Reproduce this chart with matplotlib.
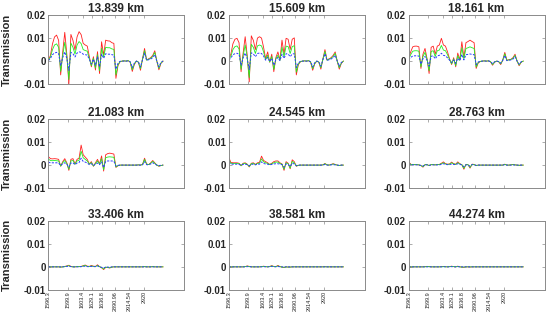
#!/usr/bin/env python3
"""Transmission vs. channel for nine tangent heights (3x3 panels)."""

import matplotlib

matplotlib.use("Agg")
import matplotlib.pyplot as plt
import numpy as np

plt.rcParams["font.family"] = ["Liberation Sans", "DejaVu Sans"]

# values below are in units of 1e-3 (transmission)
SCALE = 1e-3

TITLES = ["13.839 km", "15.609 km", "18.161 km",
          "21.083 km", "24.545 km", "28.763 km",
          "33.406 km", "38.581 km", "44.274 km"]

XTICK_LABELS = ["1596.3", "1599.9", "1603.4", "1629.1", "1636.8",
                "2890.96", "2914.54", "2920"]
XTICK_POS = [0, 9.4, 16.7, 21.2, 26.1, 32.5, 39.4, 46.7]
X_MAX = 66.4

RED_1 = [0.4, 2.5, 7.5, 10.5, 11.3, 9.0, -6.0, 4.0, 12.5, 3.0,
         -10.0, 11.6, 9.0, 4.8, 10.5, 12.8, 11.5, 7.7, 7.0, 6.5,
         2.0, -2.5, 1.9, -3.9, 4.1, -5.4, 8.4, 2.6, 9.1, 8.8,
         8.7, 8.0, 7.7, -7.5, -2.0, -0.3, 0.0, 0.1, 0.0, 0.2,
         -0.5, -4.5, -1.5, 0.0, -0.5, -4.0, 1.0, 5.5, 0.5, 1.0,
         1.5, 2.5, 4.5, 0.0, -3.8, -1.0, 0.0]
GREEN_1 = [0.3, 1.8, 5.0, 7.0, 7.5, 6.0, -4.5, 2.5, 8.2, 2.0,
           -8.0, 7.8, 6.0, 3.0, 7.0, 8.5, 7.6, 5.0, 4.6, 4.3,
           1.2, -2.0, 1.2, -3.0, 2.8, -4.2, 5.6, 1.8, 6.0, 5.8,
           5.8, 5.3, 5.1, -6.0, -1.6, -0.2, 0.0, 0.1, 0.0, 0.2,
           -0.4, -3.8, -1.2, 0.0, -0.4, -3.3, 0.8, 4.6, 0.4, 0.8,
           1.2, 2.0, 3.8, 0.0, -3.2, -0.8, 0.0]
BLUE_1 = [0.2, 1.2, 2.8, 3.5, 3.8, 3.2, -2.0, 1.5, 4.0, 1.2,
          -4.0, 3.8, 3.2, 1.8, 3.5, 4.0, 3.8, 3.0, 2.8, 2.6,
          0.8, -1.2, 0.8, -1.8, 1.8, -2.5, 3.0, 1.2, 3.2, 3.0,
          3.0, 2.8, 2.6, -3.5, -1.0, -0.1, 0.0, 0.0, 0.0, 0.1,
          -0.3, -2.8, -0.9, 0.0, -0.3, -2.5, 0.6, 3.5, 0.3, 0.6,
          0.9, 1.5, 2.8, 0.0, -2.5, -0.6, 0.0]

RED_2 = [1.2, 3.0, 7.5, 9.5, 9.9, 8.0, -4.6, 3.5, 10.6, 2.5,
         -9.0, 11.0, 9.0, 5.0, 10.0, 10.6, 10.0, 6.0, 1.0, 4.0,
         -0.5, 3.0, -4.6, 1.5, 4.0, 0.5, 9.1, 3.0, 9.9, 9.5,
         5.0, 9.5, 10.1, -6.0, -1.5, -0.3, 0.0, 0.1, 0.0, 0.2,
         -0.5, -4.0, -1.2, 0.0, -0.5, -3.5, 1.0, 5.0, 0.5, 1.0,
         1.5, 2.5, 4.0, 0.0, -3.5, -1.0, 0.0]
GREEN_2 = [0.8, 2.0, 5.0, 6.3, 6.6, 5.3, -3.6, 2.3, 7.0, 1.7,
           -7.2, 7.3, 6.0, 3.3, 6.6, 7.0, 6.6, 4.0, 0.6, 2.6,
           -0.4, 2.0, -3.6, 1.0, 2.6, 0.3, 6.0, 2.0, 6.5, 6.3,
           3.3, 6.3, 6.7, -4.8, -1.2, -0.2, 0.0, 0.1, 0.0, 0.2,
           -0.4, -3.3, -1.0, 0.0, -0.4, -2.9, 0.8, 4.2, 0.4, 0.8,
           1.2, 2.0, 3.4, 0.0, -2.9, -0.8, 0.0]
BLUE_2 = [0.5, 1.3, 2.8, 3.2, 3.4, 3.0, -1.8, 1.4, 3.5, 1.0,
          -3.6, 3.6, 3.1, 1.9, 3.3, 3.5, 3.3, 2.2, 0.4, 1.6,
          -0.2, 1.2, -1.8, 0.6, 1.6, 0.2, 3.0, 1.2, 3.2, 3.1,
          1.9, 3.1, 3.2, -2.8, -0.8, -0.1, 0.0, 0.0, 0.0, 0.1,
          -0.3, -2.5, -0.7, 0.0, -0.3, -2.2, 0.6, 3.2, 0.3, 0.6,
          0.9, 1.5, 2.5, 0.0, -2.2, -0.6, 0.0]

RED_3 = [1.2, 4.0, 6.2, 6.5, 6.5, 6.2, -3.2, 3.0, 5.5, 1.0,
         -5.4, 6.0, 6.5, 3.0, 6.5, 7.0, 9.9, 7.0, 6.5, 4.0,
         1.0, -1.5, 1.5, -2.5, 3.5, 0.5, 8.4, 1.5, 8.0, 8.5,
         9.1, 8.5, 8.0, -3.2, -0.8, -0.2, 0.0, 0.1, 0.0, 0.1,
         -0.3, -1.8, -0.5, 0.0, -0.3, -1.5, 0.5, 3.8, 0.4, 0.6,
         0.8, 1.5, 3.0, 0.0, -2.0, -0.5, 0.0]
GREEN_3 = [0.8, 2.8, 4.3, 4.5, 4.5, 4.3, -2.5, 2.0, 3.8, 0.7,
           -4.2, 4.2, 4.5, 2.0, 4.5, 4.8, 6.8, 4.8, 4.5, 2.8,
           0.7, -1.2, 1.0, -2.0, 2.4, 0.3, 5.8, 1.0, 5.5, 5.8,
           6.2, 5.8, 5.5, -2.6, -0.6, -0.1, 0.0, 0.1, 0.0, 0.1,
           -0.2, -1.5, -0.4, 0.0, -0.2, -1.2, 0.4, 3.2, 0.3, 0.5,
           0.7, 1.2, 2.5, 0.0, -1.7, -0.4, 0.0]
BLUE_3 = [0.5, 1.6, 2.2, 2.3, 2.3, 2.2, -1.3, 1.0, 2.0, 0.4,
          -2.2, 2.1, 2.3, 1.0, 2.3, 2.5, 3.4, 2.5, 2.3, 1.4,
          0.4, -0.6, 0.5, -1.0, 1.2, 0.2, 2.9, 0.5, 2.8, 2.9,
          3.1, 2.9, 2.8, -1.5, -0.4, -0.1, 0.0, 0.0, 0.0, 0.1,
          -0.2, -1.1, -0.3, 0.0, -0.2, -0.9, 0.3, 2.4, 0.2, 0.4,
          0.5, 0.9, 1.9, 0.0, -1.3, -0.3, 0.0]

RED_4 = [3.7, 2.8, 2.7, 2.8, 2.7, 2.5, -0.5, 1.5, 2.8, 1.0,
         -2.3, 2.5, 2.8, 0.5, 2.5, 3.0, 8.7, 4.5, 3.5, 2.5,
         0.5, 1.5, -0.5, 1.0, 2.5, 0.5, 4.0, -2.6, 4.5, 5.0,
         5.2, 5.0, 4.8, -1.0, -0.3, 0.0, 0.0, 0.0, 0.0, 0.0,
         0.0, 0.0, 0.0, 0.0, 0.1, 0.0, 0.3, 3.0, 0.5, 0.2,
         1.0, 2.0, 1.0, 0.0, -0.5, -0.2, 0.0]
GREEN_4 = [2.6, 2.0, 1.9, 2.0, 1.9, 1.8, -0.4, 1.1, 2.0, 0.7,
           -1.8, 1.8, 2.0, 0.4, 1.8, 2.1, 6.0, 3.2, 2.5, 1.8,
           0.4, 1.1, -0.4, 0.7, 1.8, 0.4, 2.8, -2.0, 3.2, 3.5,
           3.6, 3.5, 3.4, -0.8, -0.2, 0.0, 0.0, 0.0, 0.0, 0.0,
           0.0, 0.0, 0.0, 0.0, 0.1, 0.0, 0.2, 2.5, 0.4, 0.2,
           0.8, 1.6, 0.8, 0.0, -0.4, -0.2, 0.0]
BLUE_4 = [1.3, 1.0, 1.0, 1.0, 1.0, 0.9, -0.2, 0.6, 1.0, 0.4,
          -0.9, 0.9, 1.0, 0.2, 0.9, 1.1, 3.0, 1.6, 1.3, 0.9,
          0.2, 0.6, -0.2, 0.4, 0.9, 0.2, 1.4, -1.0, 1.6, 1.8,
          1.8, 1.8, 1.7, -0.4, -0.1, 0.0, 0.0, 0.0, 0.0, 0.0,
          0.0, 0.0, 0.0, 0.0, 0.0, 0.0, 0.1, 1.5, 0.2, 0.1,
          0.5, 1.0, 0.5, 0.0, -0.2, -0.1, 0.0]

RED_5 = [3.3, 1.2, 1.0, 1.0, 1.0, 0.8, -0.3, 0.8, 1.0, 0.4,
         -0.8, 0.8, 1.0, 0.3, 1.0, 1.2, 3.9, 2.0, 1.5, 1.0,
         0.3, 0.8, 1.5, 1.8, 1.8, 1.0, 0.5, -2.3, 1.5, 0.8,
         -1.6, 2.3, 1.5, -0.5, -0.1, 0.0, 0.0, 0.0, 0.0, 0.0,
         0.0, 0.0, 0.0, 0.0, 0.0, 0.0, 0.1, 0.7, 0.1, 0.0,
         0.3, 0.6, 0.3, 0.0, -0.2, 0.0, 0.0]
GREEN_5 = [2.3, 0.8, 0.7, 0.7, 0.7, 0.6, -0.2, 0.6, 0.7, 0.3,
           -0.6, 0.6, 0.7, 0.2, 0.7, 0.8, 2.7, 1.4, 1.0, 0.7,
           0.2, 0.6, 1.0, 1.3, 1.3, 0.7, 0.4, -1.8, 1.0, 0.6,
           -1.3, 1.6, 1.0, -0.4, -0.1, 0.0, 0.0, 0.0, 0.0, 0.0,
           0.0, 0.0, 0.0, 0.0, 0.0, 0.0, 0.1, 0.6, 0.1, 0.0,
           0.2, 0.5, 0.2, 0.0, -0.2, 0.0, 0.0]
BLUE_5 = [1.2, 0.4, 0.4, 0.4, 0.4, 0.3, -0.1, 0.3, 0.4, 0.2,
          -0.3, 0.3, 0.4, 0.1, 0.4, 0.4, 1.4, 0.7, 0.5, 0.4,
          0.1, 0.3, 0.5, 0.6, 0.6, 0.4, 0.2, -0.9, 0.5, 0.3,
          -0.6, 0.8, 0.5, -0.2, 0.0, 0.0, 0.0, 0.0, 0.0, 0.0,
          0.0, 0.0, 0.0, 0.0, 0.0, 0.0, 0.0, 0.3, 0.0, 0.0,
          0.1, 0.2, 0.1, 0.0, -0.1, 0.0, 0.0]

RED_6 = [1.5, 0.4, 0.2, 0.2, 0.2, 0.1, -0.2, -0.9, 0.2, 0.2,
         -0.2, 0.2, 0.2, 0.1, 0.3, 0.3, 0.8, 1.4, 0.6, 0.4,
         0.5, 1.3, 0.6, 0.4, 1.4, 0.6, 0.2, -1.8, 0.3, 0.2,
         -1.3, 0.4, 0.3, -0.2, 0.0, 0.0, 0.0, 0.0, 0.0, 0.0,
         0.0, 0.0, 0.0, 0.0, 0.0, 0.0, 0.0, 0.4, 0.0, 0.0,
         0.1, 0.3, 0.1, 0.0, -0.1, 0.0, 0.0]
GREEN_6 = [1.1, 0.3, 0.2, 0.2, 0.2, 0.1, -0.2, -0.7, 0.2, 0.2,
           -0.2, 0.2, 0.2, 0.1, 0.2, 0.2, 0.6, 1.0, 0.5, 0.3,
           0.4, 1.0, 0.5, 0.3, 1.0, 0.5, 0.2, -1.4, 0.2, 0.2,
           -1.0, 0.3, 0.2, -0.2, 0.0, 0.0, 0.0, 0.0, 0.0, 0.0,
           0.0, 0.0, 0.0, 0.0, 0.0, 0.0, 0.0, 0.3, 0.0, 0.0,
           0.1, 0.2, 0.1, 0.0, -0.1, 0.0, 0.0]
BLUE_6 = [0.6, 0.2, 0.1, 0.1, 0.1, 0.0, -0.1, -0.4, 0.1, 0.1,
          -0.1, 0.1, 0.1, 0.0, 0.1, 0.1, 0.3, 0.6, 0.3, 0.2,
          0.2, 0.5, 0.3, 0.2, 0.6, 0.3, 0.1, -0.7, 0.1, 0.1,
          -0.5, 0.2, 0.1, -0.1, 0.0, 0.0, 0.0, 0.0, 0.0, 0.0,
          0.0, 0.0, 0.0, 0.0, 0.0, 0.0, 0.0, 0.2, 0.0, 0.0,
          0.0, 0.1, 0.0, 0.0, 0.0, 0.0, 0.0]

RED_7 = [0.1, 0.0, 0.0, 0.0, 0.0, 0.0, -0.1, 0.0, 0.2, 0.4,
         0.7, 0.2, 0.0, 0.0, 0.1, 0.1, 0.2, 0.5, 0.8, 0.3,
         0.2, 0.6, 0.3, 0.2, 0.9, 0.1, -0.4, -1.2, -0.2, -0.3,
         -0.5, -0.1, 0.0, 0.0, 0.0, 0.0, 0.0, 0.0, 0.0, 0.0,
         0.0, 0.0, 0.0, 0.0, 0.0, 0.0, 0.0, 0.1, 0.0, 0.0,
         0.0, 0.1, 0.0, 0.0, 0.0, 0.0, 0.0]
GREEN_7 = [0.1, 0.0, 0.0, 0.0, 0.0, 0.0, -0.1, 0.0, 0.1, 0.3,
           0.5, 0.1, 0.0, 0.0, 0.1, 0.1, 0.1, 0.4, 0.6, 0.2,
           0.1, 0.4, 0.2, 0.1, 0.6, 0.1, -0.3, -0.9, -0.1, -0.2,
           -0.4, -0.1, 0.0, 0.0, 0.0, 0.0, 0.0, 0.0, 0.0, 0.0,
           0.0, 0.0, 0.0, 0.0, 0.0, 0.0, 0.0, 0.1, 0.0, 0.0,
           0.0, 0.1, 0.0, 0.0, 0.0, 0.0, 0.0]
BLUE_7 = [0.0, 0.0, 0.0, 0.0, 0.0, 0.0, 0.0, 0.0, 0.1, 0.2,
          0.3, 0.1, 0.0, 0.0, 0.0, 0.0, 0.1, 0.2, 0.3, 0.1,
          0.1, 0.2, 0.1, 0.1, 0.4, 0.0, -0.2, -0.5, -0.1, -0.1,
          -0.2, 0.0, 0.0, 0.0, 0.0, 0.0, 0.0, 0.0, 0.0, 0.0,
          0.0, 0.0, 0.0, 0.0, 0.0, 0.0, 0.0, 0.0, 0.0, 0.0,
          0.0, 0.0, 0.0, 0.0, 0.0, 0.0, 0.0]

RED_8 = [0.0, 0.0, 0.0, 0.0, 0.0, 0.0, 0.0, 0.0, 0.1, 0.4,
         0.2, 0.0, 0.0, 0.0, 0.0, 0.0, 0.1, 0.3, 0.1, 0.0,
         0.2, 0.5, 0.2, 0.1, 0.6, 0.1, -0.1, -0.3, 0.0, -0.1,
         -0.1, 0.0, 0.0, 0.0, 0.0, 0.0, 0.0, 0.0, 0.0, 0.0,
         0.0, 0.0, 0.0, 0.0, 0.0, 0.0, 0.0, 0.1, 0.0, 0.0,
         0.0, 0.0, 0.0, 0.0, 0.0, 0.0, 0.0]
GREEN_8 = [0.0, 0.0, 0.0, 0.0, 0.0, 0.0, 0.0, 0.0, 0.1, 0.3,
           0.1, 0.0, 0.0, 0.0, 0.0, 0.0, 0.1, 0.2, 0.1, 0.0,
           0.1, 0.4, 0.1, 0.1, 0.4, 0.1, -0.1, -0.2, 0.0, -0.1,
           -0.1, 0.0, 0.0, 0.0, 0.0, 0.0, 0.0, 0.0, 0.0, 0.0,
           0.0, 0.0, 0.0, 0.0, 0.0, 0.0, 0.0, 0.0, 0.0, 0.0,
           0.0, 0.0, 0.0, 0.0, 0.0, 0.0, 0.0]
BLUE_8 = [0.0, 0.0, 0.0, 0.0, 0.0, 0.0, 0.0, 0.0, 0.0, 0.1,
          0.1, 0.0, 0.0, 0.0, 0.0, 0.0, 0.0, 0.1, 0.0, 0.0,
          0.1, 0.2, 0.1, 0.0, 0.2, 0.0, 0.0, -0.1, 0.0, 0.0,
          0.0, 0.0, 0.0, 0.0, 0.0, 0.0, 0.0, 0.0, 0.0, 0.0,
          0.0, 0.0, 0.0, 0.0, 0.0, 0.0, 0.0, 0.0, 0.0, 0.0,
          0.0, 0.0, 0.0, 0.0, 0.0, 0.0, 0.0]

RED_9 = [0.0, 0.0, 0.0, 0.0, 0.0, 0.0, 0.0, 0.0, 0.1, 0.2,
         0.1, 0.0, 0.0, 0.0, 0.0, 0.0, 0.1, 0.2, 0.1, 0.0,
         0.1, 0.3, 0.1, 0.0, 0.3, 0.0, -0.1, -0.2, 0.0, 0.0,
         -0.1, 0.0, 0.0, 0.0, 0.0, 0.0, 0.0, 0.0, 0.0, 0.0,
         0.0, 0.0, 0.0, 0.0, 0.0, 0.0, 0.0, 0.0, 0.0, 0.0,
         0.0, 0.0, 0.0, 0.0, 0.0, 0.0, 0.0]
GREEN_9 = [0.0, 0.0, 0.0, 0.0, 0.0, 0.0, 0.0, 0.0, 0.0, 0.1,
           0.1, 0.0, 0.0, 0.0, 0.0, 0.0, 0.0, 0.1, 0.0, 0.0,
           0.1, 0.2, 0.1, 0.0, 0.2, 0.0, -0.1, -0.1, 0.0, 0.0,
           0.0, 0.0, 0.0, 0.0, 0.0, 0.0, 0.0, 0.0, 0.0, 0.0,
           0.0, 0.0, 0.0, 0.0, 0.0, 0.0, 0.0, 0.0, 0.0, 0.0,
           0.0, 0.0, 0.0, 0.0, 0.0, 0.0, 0.0]
BLUE_9 = [0.0, 0.0, 0.0, 0.0, 0.0, 0.0, 0.0, 0.0, 0.0, 0.0,
          0.0, 0.0, 0.0, 0.0, 0.0, 0.0, 0.0, 0.1, 0.0, 0.0,
          0.0, 0.1, 0.0, 0.0, 0.1, 0.0, 0.0, 0.0, 0.0, 0.0,
          0.0, 0.0, 0.0, 0.0, 0.0, 0.0, 0.0, 0.0, 0.0, 0.0,
          0.0, 0.0, 0.0, 0.0, 0.0, 0.0, 0.0, 0.0, 0.0, 0.0,
          0.0, 0.0, 0.0, 0.0, 0.0, 0.0, 0.0]

PANELS = [
    (RED_1, GREEN_1, BLUE_1), (RED_2, GREEN_2, BLUE_2), (RED_3, GREEN_3, BLUE_3),
    (RED_4, GREEN_4, BLUE_4), (RED_5, GREEN_5, BLUE_5), (RED_6, GREEN_6, BLUE_6),
    (RED_7, GREEN_7, BLUE_7), (RED_8, GREEN_8, BLUE_8), (RED_9, GREEN_9, BLUE_9),
]

LEFTS = [0.088, 0.416, 0.743]
BOTTOMS = [0.738, 0.414, 0.097]
WIDTH, HEIGHT = 0.247, 0.215
BOX_COLOR = "#8a8a8a"


def main():
    fig = plt.figure(figsize=(5.5, 3.21), dpi=100)
    for k, (title, (red, green, blue)) in enumerate(zip(TITLES, PANELS)):
        row, col = divmod(k, 3)
        ax = fig.add_axes([LEFTS[col], BOTTOMS[row], WIDTH, HEIGHT])
        x = np.arange(len(red))
        ax.plot(x, np.array(red) * SCALE, color="#ff2020", lw=0.6)
        ax.plot(x, np.array(green) * SCALE, color="#22ee22", lw=0.6)
        ax.plot(x, np.array(blue) * SCALE, color="#2a3cff", lw=0.7,
                linestyle=(0, (2.2, 1.4)))

        ax.set_xlim(0, X_MAX)
        ax.set_ylim(-0.01, 0.02)
        ax.set_yticks([-0.01, 0, 0.01, 0.02])
        ax.set_yticklabels(["-0.01", "0", "0.01", "0.02"],
                           fontsize=7, fontweight="bold", color="#262626")
        ax.set_xticks(XTICK_POS)
        if row == 2:
            ax.set_xticklabels(XTICK_LABELS, rotation=90, fontsize=4,
                               color="#262626")
        else:
            ax.set_xticklabels([])
        ax.tick_params(direction="in", length=2, width=0.5, pad=2,
                       top=True, right=True, color=BOX_COLOR)
        ax.tick_params(axis="x", pad=1)
        for spine in ax.spines.values():
            spine.set_color(BOX_COLOR)
            spine.set_linewidth(0.7)
        ax.set_title(title, fontsize=8.5, fontweight="bold", pad=2,
                     color="#262626")
        if col == 0:
            ax.set_ylabel("Transmission", fontsize=8, fontweight="bold",
                          color="#262626")
            ax.yaxis.set_label_coords(-0.27, 0.5)

    fig.savefig("out.png", dpi=100)
    plt.close(fig)


if __name__ == "__main__":
    main()
